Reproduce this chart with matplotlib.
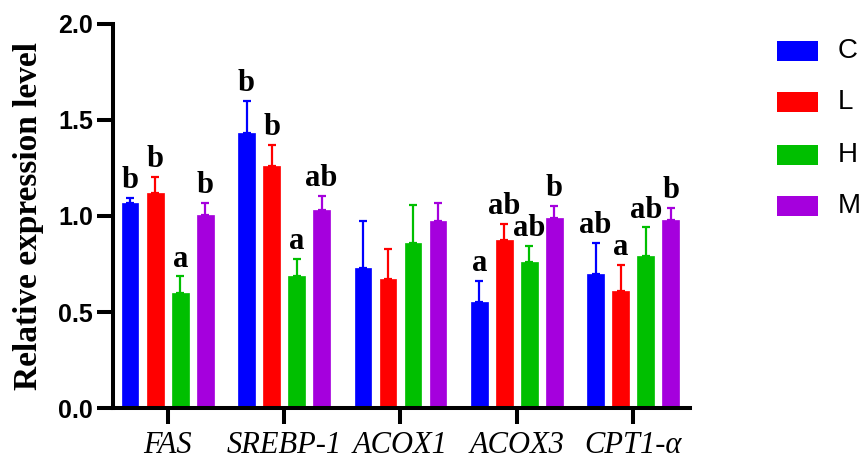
import matplotlib
matplotlib.use("Agg")
import matplotlib.pyplot as plt
import numpy as np
from matplotlib.patches import Rectangle

genes = ["FAS", "SREBP-1", "ACOX1", "ACOX3", "CPT1-α"]
groups = ["C", "L", "H", "M"]
colors = ["#0000FF", "#FF0000", "#00BF00", "#A500DD"]

means = {
    "C": [1.07, 1.43, 0.73, 0.55, 0.70],
    "L": [1.12, 1.26, 0.67, 0.875, 0.61],
    "H": [0.60, 0.685, 0.86, 0.76, 0.79],
    "M": [1.005, 1.03, 0.975, 0.99, 0.98],
}
errs = {
    "C": [0.025, 0.17, 0.245, 0.11, 0.16],
    "L": [0.085, 0.11, 0.16, 0.085, 0.135],
    "H": [0.085, 0.09, 0.195, 0.085, 0.15],
    "M": [0.065, 0.075, 0.09, 0.06, 0.06],
}
letters = {
    "C": ["b", "b", "", "a", "ab"],
    "L": ["b", "b", "", "ab", "a"],
    "H": ["a", "a", "", "ab", "ab"],
    "M": ["b", "ab", "", "b", "b"],
}

fig = plt.figure(figsize=(8.66, 4.59), dpi=100)
ax = fig.add_axes([0.1305, 0.111, 0.797 - 0.1305, 0.948 - 0.111])

x = np.arange(len(genes))
pitch = 0.215
width = 0.143
for i, g in enumerate(groups):
    xs = x + (i - 1.5) * pitch
    ax.bar(xs, means[g], width=width, color=colors[i], edgecolor=colors[i], linewidth=0.5, zorder=2)
    ax.errorbar(xs, means[g], yerr=[np.zeros(len(genes)), errs[g]], fmt="none",
                ecolor=colors[i], elinewidth=1.6, capsize=3, capthick=1.6, zorder=1)
    for xi, m, e, lab in zip(xs, means[g], errs[g], letters[g]):
        if lab:
            ax.text(xi, m + e + 0.015, lab, ha="center", va="bottom",
                    family="Liberation Serif", fontweight="bold", fontsize=22)

ax.set_xlim(-0.47, 4.49)
ax.set_ylim(0, 2.0)
ax.set_yticks([0.0, 0.5, 1.0, 1.5, 2.0])
ax.set_yticklabels(["0.0", "0.5", "1.0", "1.5", "2.0"], family="Liberation Sans",
                   fontweight="bold", fontsize=18)
ax.set_xticks(x)
ax.set_xticklabels(genes, family="Liberation Serif", style="italic", fontsize=22)
ax.tick_params(axis="both", width=2.9, length=11.5, direction="out", pad=3)
ax.tick_params(axis="x", pad=5)
for s in ["top", "right"]:
    ax.spines[s].set_visible(False)
for s in ["left", "bottom"]:
    ax.spines[s].set_linewidth(2.9)
ax.set_ylabel("Relative expression level", family="Liberation Serif", fontweight="bold",
              fontsize=24)
ax.yaxis.set_label_coords(-0.12, 0.5)

# legend drawn in figure pixels
W, H = 866, 459
ycent = [50.7, 101.7, 155, 206]
for c, lab, yc in zip(colors, groups, ycent):
    fig.patches.append(Rectangle((777 / W, 1 - (yc + 10) / H), 41 / W, 20 / H,
                                 transform=fig.transFigure, facecolor=c, edgecolor="none"))
    fig.text(838 / W, 1 - yc / H, lab, ha="left", va="center",
             family="Liberation Sans", fontsize=20)

fig.savefig("out.png", dpi=100)
